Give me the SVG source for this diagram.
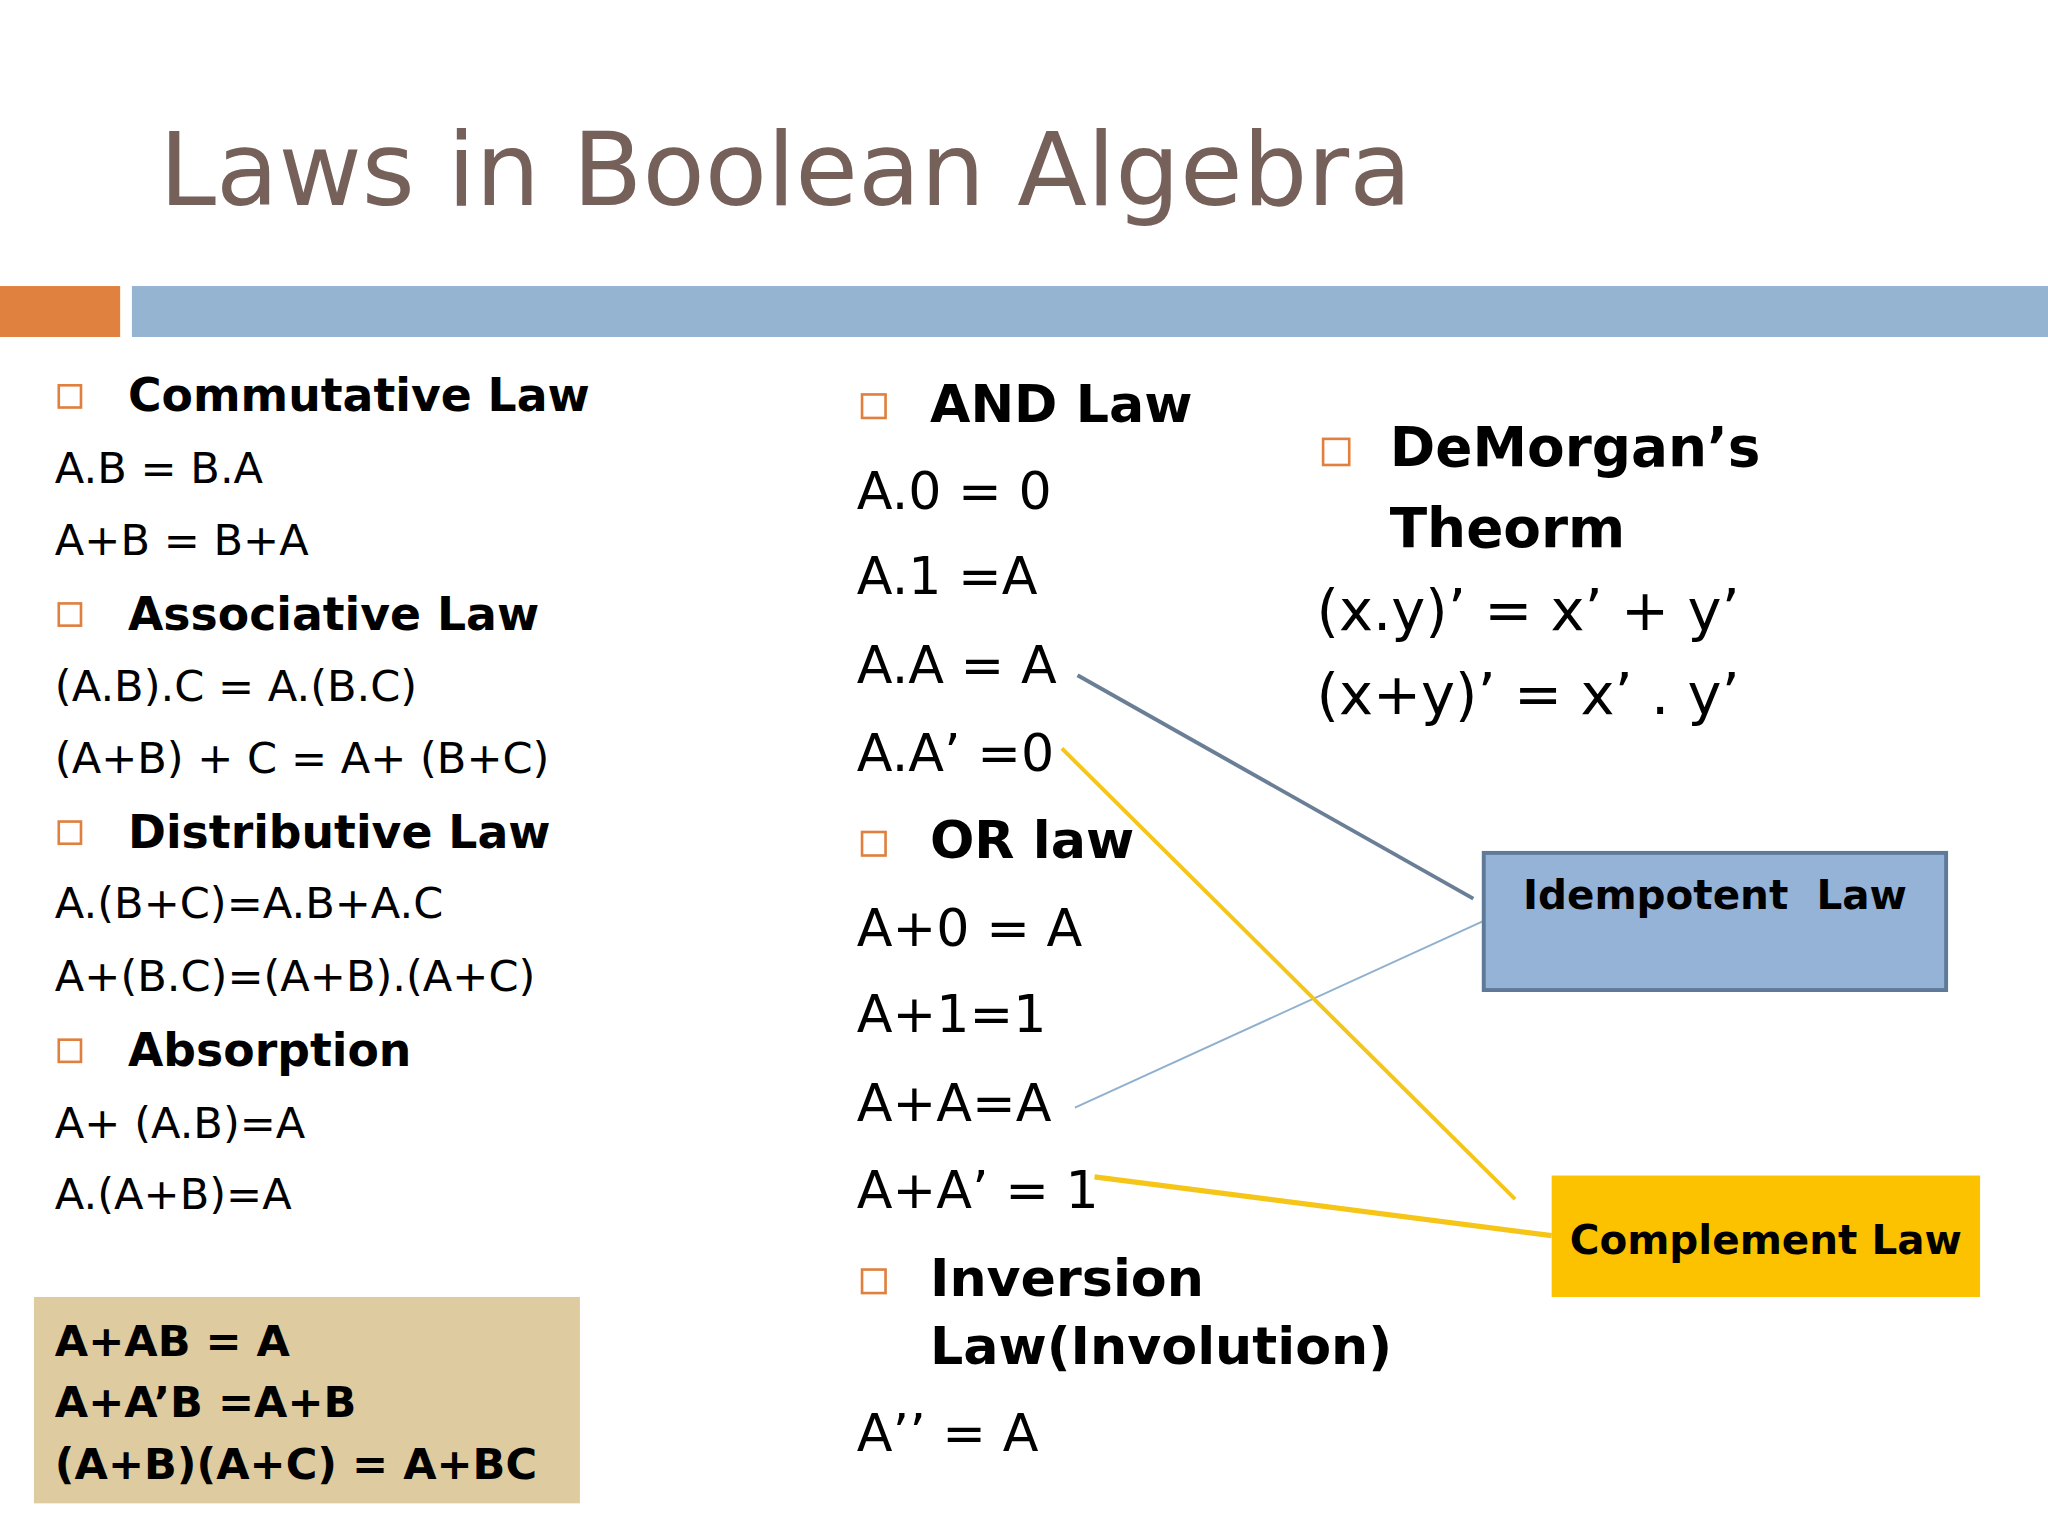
<svg xmlns="http://www.w3.org/2000/svg" width="2048" height="1536" viewBox="0 0 2048 1536">
<style>
text{font-family:"DejaVu Sans","Liberation Sans",sans-serif;fill:#000}
.t{font-size:33px}
.h{font-size:35px;font-weight:bold}
.m{font-size:40px}
.mh{font-size:40px;font-weight:bold}
.r{font-size:44px}
.rh{font-size:42px;font-weight:bold}
.b{fill:none;stroke:#e07f3e;stroke-width:2}
</style>
<rect width="2048" height="1536" fill="#fff"/>
<g transform="scale(1.30612)">
<g id="title"><text x="122" y="157" style="font-size:78px;fill:#75605a">Laws in Boolean Algebra</text></g>
<g id="bars"><rect x="0" y="219" width="92" height="39" fill="#e0813f"/><rect x="101" y="219" width="1467" height="39" fill="#95b4d2"/></g>
<g id="left">
<rect class="b" x="45" y="295" width="17" height="17"/><text class="h" x="98" y="315">Commutative Law</text>
<text class="t" x="42" y="370">A.B = B.A</text><text class="t" x="42" y="425">A+B = B+A</text>
<rect class="b" x="45" y="462" width="17" height="17"/><text class="h" x="98" y="482">Associative Law</text>
<text class="t" x="42" y="537">(A.B).C = A.(B.C)</text><text class="t" x="42" y="592">(A+B) + C = A+ (B+C)</text>
<rect class="b" x="45" y="629" width="17" height="17"/><text class="h" x="98" y="649">Distributive Law</text>
<text class="t" x="42" y="703">A.(B+C)=A.B+A.C</text><text class="t" x="42" y="759">A+(B.C)=(A+B).(A+C)</text>
<rect class="b" x="45" y="796" width="17" height="17"/><text class="h" x="98" y="816">Absorption</text>
<text class="t" x="42" y="871">A+ (A.B)=A</text><text class="t" x="42" y="926">A.(A+B)=A</text>
</g>
<g id="tanbox"><rect x="26" y="993" width="418" height="158" fill="#dfcba0"/>
<text class="h" x="42" y="1038" style="font-size:33px">A+AB = A</text><text class="h" x="42" y="1085" style="font-size:33px">A+A’B =A+B</text><text class="h" x="42" y="1132" style="font-size:33px">(A+B)(A+C) = A+BC</text></g>
<g id="middle">
<rect class="b" x="660" y="302" width="18" height="18"/><text class="mh" x="712" y="323">AND Law</text>
<text class="m" x="656" y="390">A.0 = 0</text><text class="m" x="656" y="455">A.1 =A</text><text class="m" x="656" y="523">A.A = A</text><text class="m" x="656" y="590">A.A’ =0</text>
<rect class="b" x="660" y="637" width="18" height="18"/><text class="mh" x="712" y="657">OR law</text>
<text class="m" x="656" y="724">A+0 = A</text><text class="m" x="656" y="790">A+1=1</text><text class="m" x="656" y="858">A+A=A</text><text class="m" x="656" y="925">A+A’ = 1</text>
<rect class="b" x="660" y="972" width="18" height="18"/><text class="mh" x="712" y="992">Inversion</text><text class="mh" x="712" y="1044">Law(Involution)</text>
<text class="m" x="656" y="1111">A’’ = A</text>
</g>
<g id="right">
<rect class="b" x="1013" y="336" width="20" height="20"/><text class="rh" x="1064" y="357">DeMorgan’s</text><text class="rh" x="1064" y="419">Theorm</text>
<text class="r" x="1008" y="482">(x.y)’ = x’ + y’</text><text class="r" x="1008" y="547">(x+y)’ = x’ . y’</text>
</g>
<g id="connectors" fill="none">
<line x1="825" y1="517" x2="1128" y2="688" stroke="#6a7f96" stroke-width="3"/>
<line x1="823" y1="848" x2="1136" y2="705" stroke="#8fb0cf" stroke-width="1.5"/>
<line x1="813" y1="573" x2="1160" y2="918" stroke="#f5c518" stroke-width="3"/>
<line x1="838" y1="901" x2="1188" y2="946" stroke="#f5c518" stroke-width="4"/>
</g>
<g id="idempotent"><rect x="1136" y="653" width="354" height="105" fill="#95b3d7" stroke="#5f7a99" stroke-width="3"/>
<text x="1313" y="696" text-anchor="middle" style="font-size:31px;font-weight:bold" xml:space="preserve">Idempotent  Law</text></g>
<g id="complement"><rect x="1188" y="900" width="328" height="93" fill="#fcc200"/>
<text x="1352" y="960" text-anchor="middle" style="font-size:31px;font-weight:bold">Complement Law</text></g>
</g>
</svg>
